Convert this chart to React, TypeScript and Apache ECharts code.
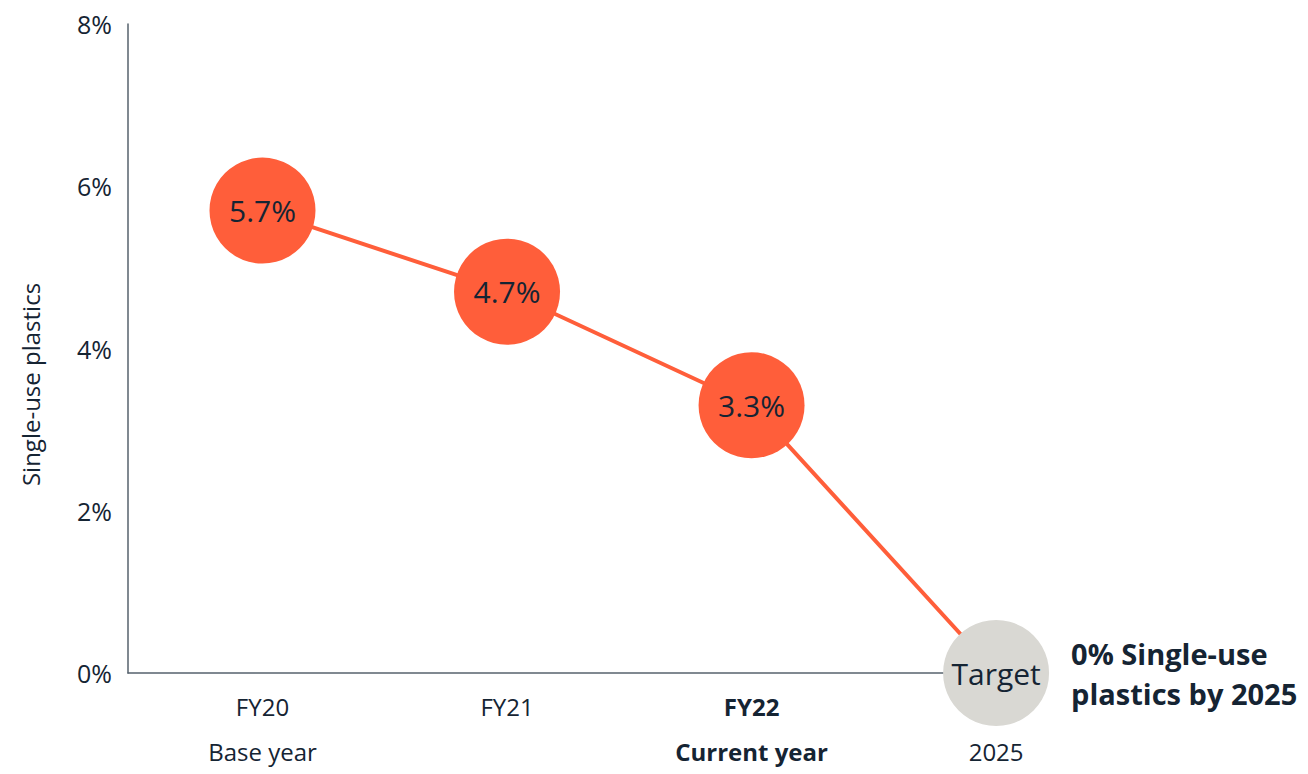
import React, { useEffect, useRef } from "react";
import * as echarts from "echarts";

const topLabels = ["FY20", "FY21", "FY22", ""];
const bottomLabels = ["Base year", "", "Current year", "2025"];
const boldIndex = 2;
const values = [5.7, 4.7, 3.3, 0];
const pointLabels = ["5.7%", "4.7%", "3.3%", "Target"];
const yTicks = { min: 0, max: 8, interval: 2 };
const yName = "Single-use plastics";
const annotation = "0% Single-use\nplastics by 2025";

const ORANGE = "#FF5E3A";
const GREY = "#D9D8D3";
const TEXT = "#152433";
const AXIS = "#56626D";
const FONT = "'Open Sans', 'Noto Sans', sans-serif";

export default function App() {
  const ref = useRef<HTMLDivElement>(null);
  useEffect(() => {
    document.body.style.margin = "0";
    const chart = echarts.init(ref.current!, null, { renderer: "svg" });
    const lastIdx = values.length - 1;
    chart.setOption({
      animation: false,
      textStyle: { fontFamily: FONT, color: TEXT },
      grid: { left: 128, right: 263, top: 24, bottom: 90, containLabel: false },
      xAxis: {
        type: "value",
        min: -0.55,
        max: 3.2,
        splitLine: { show: false },
        axisTick: { show: false },
        axisLine: { show: true, onZero: false, lineStyle: { color: AXIS, width: 1.5 } },
        axisLabel: {
          customValues: values.map((_, i) => i),
          margin: 11,
          lineHeight: 45,
          fontSize: 24,
          color: TEXT,
          fontFamily: FONT,
          formatter: (v: number) => {
            const i = Math.round(v);
            const s = i === boldIndex ? "b" : "n";
            const t = topLabels[i] || " ";
            const b = bottomLabels[i] || " ";
            return `{${s}|${t}}\n{${s}|${b}}`;
          },
          rich: {
            n: { fontSize: 24, lineHeight: 45, color: TEXT, fontFamily: FONT },
            b: { fontSize: 24, lineHeight: 45, color: TEXT, fontFamily: FONT, fontWeight: "bold" },
          },
        },
      },
      yAxis: {
        type: "value",
        min: yTicks.min,
        max: yTicks.max,
        interval: yTicks.interval,
        name: yName,
        nameLocation: "middle",
        nameGap: 86,
        nameRotate: 90,
        nameTextStyle: { fontSize: 24, color: TEXT, fontFamily: FONT, padding: [0, 72, 0, 0] },
        splitLine: { show: false },
        axisTick: { show: false },
        axisLine: { show: true, onZero: false, lineStyle: { color: AXIS, width: 1.5 } },
        axisLabel: { formatter: "{value}%", fontSize: 25, color: TEXT, margin: 16, fontFamily: FONT },
      },
      series: [
        {
          type: "line",
          symbol: "circle",
          symbolSize: 106,
          lineStyle: { color: ORANGE, width: 4 },
          itemStyle: { color: ORANGE },
          data: values.map((v, i) => ({
            value: [i, v],
            itemStyle: { color: i === lastIdx ? GREY : ORANGE },
          })),
          label: {
            show: true,
            position: "inside",
            fontSize: 30,
            color: TEXT,
            fontFamily: FONT,
            formatter: (p: any) => pointLabels[p.dataIndex],
          },
          z: 2,
        },
        {
          type: "scatter",
          silent: true,
          symbolSize: 106,
          itemStyle: { color: GREY, opacity: 0 },
          data: [[lastIdx, values[lastIdx]]],
          label: {
            show: true,
            position: "right",
            distance: 22,
            align: "left",
            fontSize: 29,
            lineHeight: 40,
            fontWeight: "bold",
            color: TEXT,
            opacity: 1,
            fontFamily: FONT,
            formatter: annotation,
          },
          z: 3,
        },
      ],
    });
    return () => chart.dispose();
  }, []);
  return <div ref={ref} style={{ width: 1308, height: 774 }} />;
}
